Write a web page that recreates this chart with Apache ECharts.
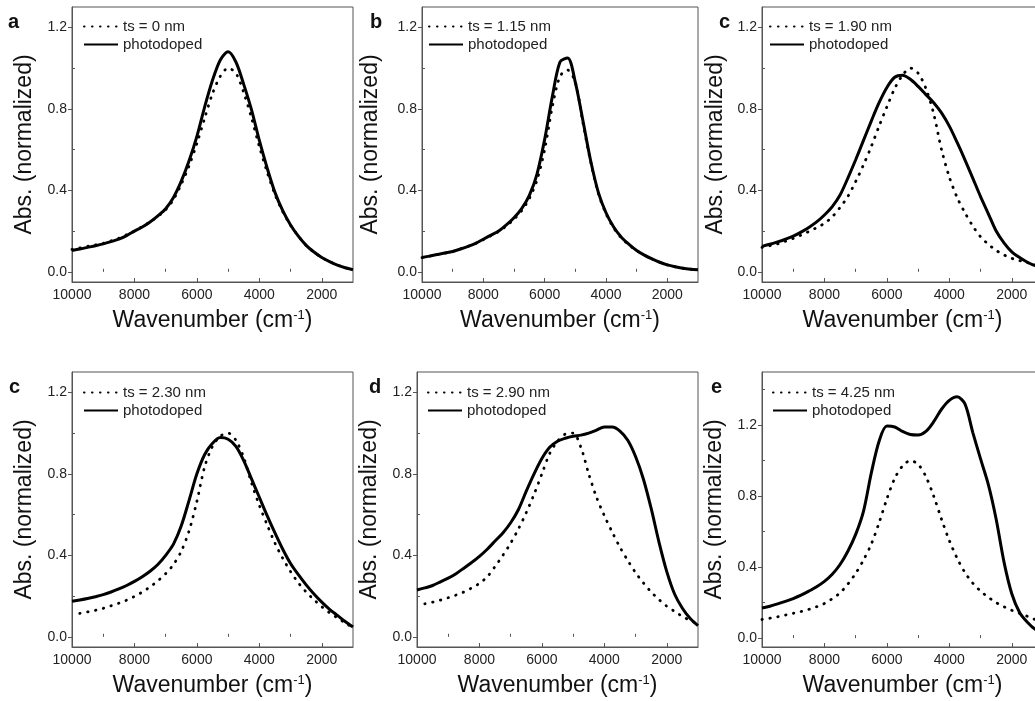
<!DOCTYPE html>
<html>
<head>
<meta charset="utf-8">
<title>Photodoped absorption spectra</title>
<script src="https://cdn.jsdelivr.net/npm/echarts@6/dist/echarts.min.js"></script>
<style>
    html, body { margin: 0; padding: 0; background: #fff; }
    #chart { width: 1035px; height: 701px; }
</style>
</head>
<body>
<div id="chart"></div>
<script>
// wavenumber grid (cm-1), 250 steps, shared by every panel
var wavenumber = [10000, 9750, 9500, 9250, 9000, 8750, 8500, 8250, 8000,
    7750, 7500, 7250, 7000, 6750, 6500, 6250, 6000, 5750,
    5500, 5250, 5000, 4750, 4500, 4250, 4000, 3750, 3500,
    3250, 3000, 2750, 2500, 2250, 2000, 1750, 1500, 1250, 1000];

// normalized absorbance
var ts0 = [0.11, 0.117, 0.125, 0.132, 0.14, 0.152, 0.165, 0.182, 0.20,
    0.222, 0.245, 0.272, 0.305, 0.355, 0.43, 0.52, 0.63, 0.755,
    0.875, 0.96, 1.0, 0.975, 0.88, 0.755, 0.615, 0.49, 0.38,
    0.295, 0.228, 0.175, 0.13, 0.097, 0.07, 0.05, 0.033, 0.02, 0.01];
var doped0 = [0.105, 0.112, 0.12, 0.128, 0.137, 0.148, 0.16, 0.178, 0.20,
    0.22, 0.245, 0.275, 0.31, 0.365, 0.445, 0.545, 0.665, 0.81,
    0.94, 1.04, 1.08, 1.03, 0.92, 0.795, 0.645, 0.51, 0.39,
    0.30, 0.23, 0.175, 0.13, 0.097, 0.07, 0.05, 0.033, 0.02, 0.01];

var ts115 = [0.07, 0.077, 0.085, 0.092, 0.10, 0.112, 0.125, 0.14, 0.158,
    0.178, 0.198, 0.225, 0.258, 0.30, 0.36, 0.45, 0.60, 0.81,
    0.96, 0.99, 0.93, 0.73, 0.54, 0.385, 0.285, 0.215, 0.167,
    0.132, 0.104, 0.082, 0.063, 0.047, 0.034, 0.025, 0.018, 0.013, 0.01];
var doped115 = [0.07, 0.077, 0.085, 0.092, 0.10, 0.112, 0.125, 0.14, 0.16,
    0.18, 0.20, 0.23, 0.265, 0.31, 0.375, 0.48, 0.65, 0.86,
    1.03, 1.05, 0.93, 0.74, 0.545, 0.39, 0.29, 0.22, 0.17,
    0.135, 0.105, 0.082, 0.063, 0.047, 0.034, 0.025, 0.018, 0.013, 0.01];

var ts190 = [0.12, 0.128, 0.137, 0.15, 0.164, 0.18, 0.198, 0.217, 0.238,
    0.27, 0.316, 0.37, 0.443, 0.525, 0.615, 0.715, 0.81, 0.90,
    0.965, 1.0, 0.975, 0.90, 0.775, 0.60, 0.465, 0.365, 0.29,
    0.225, 0.172, 0.135, 0.105, 0.083, 0.066, 0.055, 0.045, 0.036, 0.03];
var doped190 = [0.125, 0.135, 0.147, 0.16, 0.175, 0.195, 0.218, 0.245, 0.279,
    0.32, 0.377, 0.46, 0.55, 0.645, 0.74, 0.83, 0.905, 0.955,
    0.965, 0.945, 0.91, 0.87, 0.83, 0.78, 0.715, 0.635, 0.55,
    0.46, 0.369, 0.285, 0.20, 0.142, 0.098, 0.07, 0.047, 0.03, 0.02];

var ts230 = [null, 0.115, 0.122, 0.13, 0.14, 0.152, 0.165, 0.18, 0.198,
    0.22, 0.245, 0.275, 0.31, 0.355, 0.42, 0.52, 0.665, 0.835,
    0.935, 0.985, 1.0, 0.965, 0.88, 0.755, 0.645, 0.55, 0.46,
    0.385, 0.32, 0.265, 0.22, 0.182, 0.148, 0.118, 0.093, 0.068, 0.045];
var doped230 = [0.175, 0.181, 0.188, 0.197, 0.207, 0.22, 0.235, 0.252, 0.272,
    0.295, 0.322, 0.355, 0.40, 0.455, 0.545, 0.67, 0.80, 0.895,
    0.95, 0.978, 0.97, 0.935, 0.865, 0.775, 0.685, 0.595, 0.51,
    0.43, 0.36, 0.305, 0.255, 0.21, 0.17, 0.135, 0.105, 0.075, 0.048];

var ts290 = [null, 0.162, 0.17, 0.18, 0.192, 0.205, 0.22, 0.24, 0.262,
    0.295, 0.345, 0.40, 0.46, 0.53, 0.61, 0.70, 0.80, 0.90,
    0.96, 0.995, 1.0, 0.93, 0.80, 0.685, 0.595, 0.515, 0.44,
    0.375, 0.315, 0.265, 0.22, 0.183, 0.15, 0.125, 0.10, 0.08, 0.065];
var doped290 = [0.23, 0.24, 0.252, 0.27, 0.288, 0.31, 0.337, 0.365, 0.395,
    0.43, 0.47, 0.51, 0.56, 0.625, 0.715, 0.80, 0.875, 0.93,
    0.96, 0.975, 0.985, 0.99, 1.0, 1.015, 1.03, 1.03, 1.01,
    0.965, 0.885, 0.775, 0.63, 0.465, 0.32, 0.21, 0.14, 0.09, 0.055];

var ts425 = [0.105, 0.112, 0.12, 0.13, 0.14, 0.15, 0.162, 0.177, 0.195,
    0.222, 0.255, 0.305, 0.365, 0.44, 0.53, 0.65, 0.785, 0.90,
    0.97, 1.0, 0.98, 0.91, 0.80, 0.67, 0.55, 0.45, 0.37,
    0.31, 0.265, 0.23, 0.20, 0.177, 0.157, 0.14, 0.123, 0.105, 0.09];
var doped425 = [0.17, 0.18, 0.193, 0.207, 0.223, 0.242, 0.265, 0.29, 0.32,
    0.36, 0.415, 0.49, 0.585, 0.715, 0.93, 1.11, 1.195, 1.19,
    1.165, 1.148, 1.145, 1.165, 1.22, 1.29, 1.34, 1.36, 1.32,
    1.16, 1.01, 0.865, 0.67, 0.43, 0.25, 0.145, 0.09, 0.05, 0.03];

var xTicks = [10000, 8000, 6000, 4000, 2000];
var xMinorTicks = [9000, 7000, 5000, 3000];
var yTicks = [0, 0.4, 0.8, 1.2];
var yMinorTicks = [0.2, 0.6, 1.0, 1.4];

var panels = [
    {letter: 'a', label: 'ts = 0 nm', dotted: ts0, doped: doped0, yMax: 1.3},
    {letter: 'b', label: 'ts = 1.15 nm', dotted: ts115, doped: doped115, yMax: 1.3},
    {letter: 'c', label: 'ts = 1.90 nm', dotted: ts190, doped: doped190, yMax: 1.3},
    {letter: 'c', label: 'ts = 2.30 nm', dotted: ts230, doped: doped230, yMax: 1.3},
    {letter: 'd', label: 'ts = 2.90 nm', dotted: ts290, doped: doped290, yMax: 1.3},
    {letter: 'e', label: 'ts = 4.25 nm', dotted: ts425, doped: doped425, yMax: 1.5}
];

// pixel placement of each panel
var layout = [
    {left: 72, top: 7, width: 281, nameGap: 36, letterLeft: 8, legendLeft: 78, legendTop: 14},
    {left: 422, top: 7, width: 276, nameGap: 40, letterLeft: 370, legendLeft: 423, legendTop: 14},
    {left: 762, top: 7, width: 281, nameGap: 35, letterLeft: 719, legendLeft: 764, legendTop: 14},
    {left: 72, top: 372, width: 281, nameGap: 36, letterLeft: 9, legendLeft: 78, legendTop: 380},
    {left: 417, top: 372, width: 281, nameGap: 36, letterLeft: 369, legendLeft: 422, legendTop: 380},
    {left: 762, top: 372, width: 281, nameGap: 36, letterLeft: 711, legendLeft: 767, legendTop: 380}
];

var FONT = '"Liberation Sans", Arial, Helvetica, sans-serif';
var AXIS_COLOR = '#555';
var TEXT_COLOR = '#222';

function pairs(ys) {
    return wavenumber.map(function (x, k) { return [x, ys[k]]; });
}

var option = {
    animation: false,
    backgroundColor: '#fff',
    title: [], legend: [], grid: [], xAxis: [], yAxis: [], series: []
};

panels.forEach(function (p, i) {
    var L = layout[i];
    option.grid.push({
        left: L.left, top: L.top, width: L.width, height: 275,
        show: true, borderColor: AXIS_COLOR, borderWidth: 1,
        containLabel: false, outerBoundsMode: 'none'
    });
    option.title.push({
        text: p.letter, left: L.letterLeft, top: L.top + 5, padding: 0,
        textStyle: {fontSize: 20, fontWeight: 'bold', color: '#111', fontFamily: FONT}
    });
    option.legend.push({
        orient: 'vertical', left: L.legendLeft, top: L.legendTop,
        itemWidth: 34, itemHeight: 12, itemGap: 3, selectedMode: false,
        itemStyle: {opacity: 0, borderWidth: 0},
        data: [p.label, 'photodoped'],
        textStyle: {fontSize: 15, color: TEXT_COLOR, fontFamily: FONT}
    });
    // main x axis + a second one carrying the minor ticks
    option.xAxis.push({
        gridIndex: i, type: 'value', min: 1000, max: 10000, inverse: true, position: 'bottom',
        axisLine: {show: true, onZero: false, lineStyle: {color: AXIS_COLOR, width: 1}},
        axisTick: {show: true, inside: true, length: 4, customValues: xTicks, lineStyle: {color: AXIS_COLOR}},
        axisLabel: {customValues: xTicks, margin: 6, fontSize: 14, color: TEXT_COLOR, fontFamily: FONT,
            formatter: function (v) { return String(v); }},
        splitLine: {show: false},
        name: 'Wavenumber (cm{sup|-1})', nameLocation: 'middle', nameGap: 27,
        nameTextStyle: {fontSize: 23, color: '#111', fontFamily: FONT,
            rich: {sup: {fontSize: 13, verticalAlign: 'top', color: '#111', fontFamily: FONT}}}
    });
    option.xAxis.push({
        gridIndex: i, type: 'value', min: 1000, max: 10000, inverse: true, position: 'bottom',
        axisLine: {show: false},
        axisTick: {show: true, inside: true, length: 3, customValues: xMinorTicks, lineStyle: {color: AXIS_COLOR}},
        axisLabel: {show: false}, splitLine: {show: false}
    });
    option.yAxis.push({
        gridIndex: i, type: 'value', min: -0.05, max: p.yMax, position: 'left',
        axisLine: {show: true, onZero: false, lineStyle: {color: AXIS_COLOR, width: 1}},
        axisTick: {show: true, inside: false, length: 4, customValues: yTicks, lineStyle: {color: AXIS_COLOR}},
        axisLabel: {customValues: yTicks, margin: 5, fontSize: 14, color: TEXT_COLOR, fontFamily: FONT,
            formatter: function (v) { return v.toFixed(1); }},
        splitLine: {show: false},
        name: 'Abs. (normalized)', nameLocation: 'middle', nameGap: L.nameGap,
        nameTextStyle: {fontSize: 23, color: '#111', fontFamily: FONT}
    });
    option.yAxis.push({
        gridIndex: i, type: 'value', min: -0.05, max: p.yMax, position: 'left',
        axisLine: {show: false},
        axisTick: {show: true, inside: true, length: 3, customValues: yMinorTicks, lineStyle: {color: AXIS_COLOR}},
        axisLabel: {show: false}, splitLine: {show: false}
    });
    option.series.push({
        name: p.label, type: 'line', xAxisIndex: 2 * i, yAxisIndex: 2 * i,
        data: pairs(p.dotted), smooth: 0.3, symbol: 'none', clip: true,
        lineStyle: {color: '#000', width: 2.8, type: [0.5, 7.5], cap: 'round'},
        itemStyle: {color: '#000'}
    });
    option.series.push({
        name: 'photodoped', type: 'line', xAxisIndex: 2 * i, yAxisIndex: 2 * i,
        data: pairs(p.doped), smooth: 0.3, symbol: 'none', clip: true,
        lineStyle: {color: '#000', width: 3},
        itemStyle: {color: '#000'}
    });
});

var chart = echarts.init(document.getElementById('chart'), null, {renderer: 'canvas'});
chart.setOption(option);
</script>
</body>
</html>
